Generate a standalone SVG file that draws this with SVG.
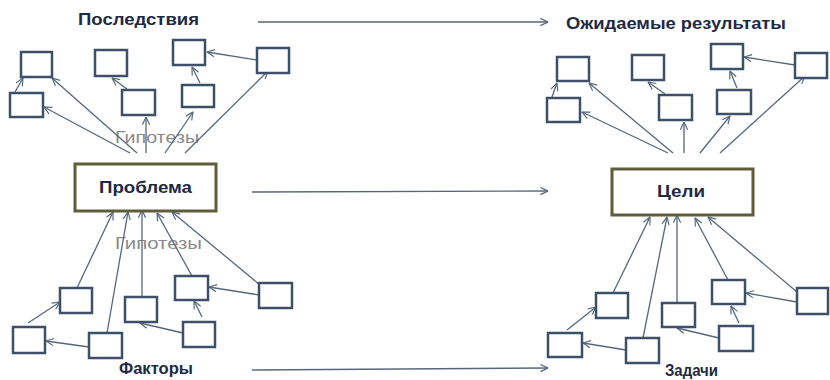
<svg xmlns="http://www.w3.org/2000/svg" width="830" height="380" viewBox="0 0 830 380">
  <defs>
    <marker id="arr" viewBox="0 0 10 10" refX="9.5" refY="5" markerWidth="9" markerHeight="9" markerUnits="userSpaceOnUse" orient="auto">
      <path d="M1,1 L9.5,5 L1,9" fill="none" stroke="#56677c" stroke-width="1.3"/>
    </marker>
    <style>
      .box { fill: #ffffff; stroke: #3d5069; stroke-width: 2.5; }
      .main { fill: #ffffff; stroke: #5e5d39; stroke-width: 3; }
      .lbl { font-family: "Liberation Sans", Arial, sans-serif; font-weight: bold; font-size: 16px; fill: #1e2a44; }
      .hyp { font-family: "Liberation Sans", Arial, sans-serif; font-size: 16.5px; fill: #8a8a8a; }
      .con line { stroke: #56677c; stroke-width: 1.3; marker-end: url(#arr); }
    </style>
  </defs>
  <rect width="830" height="380" fill="#ffffff"/>

  <!-- headings -->
  <text class="lbl" x="78" y="25" textLength="121" lengthAdjust="spacingAndGlyphs">Последствия</text>
  <text class="lbl" x="566" y="29" textLength="220" lengthAdjust="spacingAndGlyphs">Ожидаемые результаты</text>
  <text class="lbl" x="119" y="374" textLength="74" lengthAdjust="spacingAndGlyphs">Факторы</text>
  <text class="lbl" x="665" y="376" textLength="53" lengthAdjust="spacingAndGlyphs">Задачи</text>
  <text class="hyp" x="115" y="143" textLength="84" lengthAdjust="spacingAndGlyphs">Гипотезы</text>
  <text class="hyp" x="115" y="249" textLength="87" lengthAdjust="spacingAndGlyphs">Гипотезы</text>

  <!-- connectors -->
  <g id="connectors" class="con">
    <line x1="258" y1="22" x2="548" y2="22"/>
    <line x1="252" y1="192" x2="548" y2="191"/>
    <line x1="252" y1="370" x2="548" y2="368"/>

    <!-- consequences -->
    <line x1="15" y1="92" x2="23" y2="78"/>
    <line x1="137" y1="153" x2="52" y2="78"/>
    <line x1="130" y1="153" x2="44" y2="107"/>
    <line x1="127" y1="89" x2="112" y2="78"/>
    <line x1="146" y1="153" x2="146" y2="117"/>
    <line x1="165" y1="153" x2="193" y2="112"/>
    <line x1="200" y1="83" x2="192" y2="67"/>
    <line x1="257" y1="60" x2="207" y2="52"/>
    <line x1="185" y1="153" x2="268" y2="71"/>

    <!-- factors -->
    <line x1="77" y1="288" x2="113" y2="212"/>
    <line x1="107" y1="333" x2="128" y2="212"/>
    <line x1="142" y1="297" x2="142" y2="210"/>
    <line x1="192" y1="276" x2="157" y2="213"/>
    <line x1="260" y1="285" x2="172" y2="212"/>
    <line x1="28" y1="323" x2="60" y2="302"/>
    <line x1="89" y1="347" x2="46" y2="341"/>
    <line x1="183" y1="333" x2="140" y2="323"/>
    <line x1="202" y1="317" x2="194" y2="301"/>
    <line x1="259" y1="295" x2="209" y2="287"/>

    <!-- expected results -->
    <line x1="552" y1="97" x2="557" y2="83"/>
    <line x1="673" y1="153" x2="589" y2="83"/>
    <line x1="668" y1="153" x2="582" y2="112"/>
    <line x1="665" y1="94" x2="648" y2="82"/>
    <line x1="684" y1="153" x2="684" y2="122"/>
    <line x1="700" y1="153" x2="730" y2="116"/>
    <line x1="737" y1="88" x2="730" y2="71"/>
    <line x1="795" y1="65" x2="744" y2="57"/>
    <line x1="720" y1="153" x2="805" y2="76"/>

    <!-- tasks -->
    <line x1="613" y1="293" x2="650" y2="217"/>
    <line x1="643" y1="338" x2="667" y2="217"/>
    <line x1="677" y1="303" x2="677" y2="215"/>
    <line x1="728" y1="280" x2="695" y2="218"/>
    <line x1="797" y1="292" x2="708" y2="217"/>
    <line x1="567" y1="330" x2="596" y2="307"/>
    <line x1="626" y1="350" x2="583" y2="343"/>
    <line x1="719" y1="338" x2="677" y2="328"/>
    <line x1="739" y1="323" x2="731" y2="306"/>
    <line x1="797" y1="302" x2="746" y2="293"/>
  </g>

  <!-- main nodes -->
  <g id="problem">
    <rect class="main" x="75" y="164" width="141" height="47"/>
    <text class="lbl" x="99" y="193" textLength="93" lengthAdjust="spacingAndGlyphs">Проблема</text>
  </g>
  <g id="goals">
    <rect class="main" x="612" y="169" width="141" height="46"/>
    <text class="lbl" x="657" y="197" textLength="48" lengthAdjust="spacingAndGlyphs">Цели</text>
  </g>

  <!-- consequence boxes -->
  <g id="c1"><rect class="box" x="21" y="52" width="31" height="25"/></g>
  <g id="c2"><rect class="box" x="10" y="93" width="33" height="24"/></g>
  <g id="c3"><rect class="box" x="95" y="50" width="32" height="26"/></g>
  <g id="c4"><rect class="box" x="122" y="90" width="33" height="25"/></g>
  <g id="c5"><rect class="box" x="173" y="40" width="32" height="25"/></g>
  <g id="c6"><rect class="box" x="182" y="85" width="32" height="22"/></g>
  <g id="c7"><rect class="box" x="257" y="48" width="32" height="25"/></g>

  <!-- factor boxes -->
  <g id="f1"><rect class="box" x="60" y="288" width="32" height="25"/></g>
  <g id="f2"><rect class="box" x="13" y="327" width="32" height="26"/></g>
  <g id="f3"><rect class="box" x="125" y="297" width="32" height="25"/></g>
  <g id="f4"><rect class="box" x="89" y="333" width="33" height="25"/></g>
  <g id="f5"><rect class="box" x="175" y="276" width="33" height="24"/></g>
  <g id="f6"><rect class="box" x="183" y="322" width="32" height="25"/></g>
  <g id="f7"><rect class="box" x="259" y="283" width="33" height="25"/></g>

  <!-- expected result boxes -->
  <g id="r1"><rect class="box" x="557" y="57" width="32" height="24"/></g>
  <g id="r2"><rect class="box" x="547" y="98" width="33" height="24"/></g>
  <g id="r3"><rect class="box" x="632" y="55" width="32" height="25"/></g>
  <g id="r4"><rect class="box" x="659" y="95" width="33" height="25"/></g>
  <g id="r5"><rect class="box" x="711" y="44" width="32" height="25"/></g>
  <g id="r6"><rect class="box" x="717" y="90" width="34" height="24"/></g>
  <g id="r7"><rect class="box" x="795" y="53" width="32" height="25"/></g>

  <!-- task boxes -->
  <g id="t1"><rect class="box" x="596" y="293" width="32" height="25"/></g>
  <g id="t2"><rect class="box" x="548" y="333" width="34" height="24"/></g>
  <g id="t3"><rect class="box" x="662" y="303" width="33" height="24"/></g>
  <g id="t4"><rect class="box" x="626" y="338" width="33" height="25"/></g>
  <g id="t5"><rect class="box" x="712" y="280" width="33" height="24"/></g>
  <g id="t6"><rect class="box" x="719" y="326" width="34" height="25"/></g>
  <g id="t7"><rect class="box" x="797" y="288" width="31" height="26"/></g>
</svg>
